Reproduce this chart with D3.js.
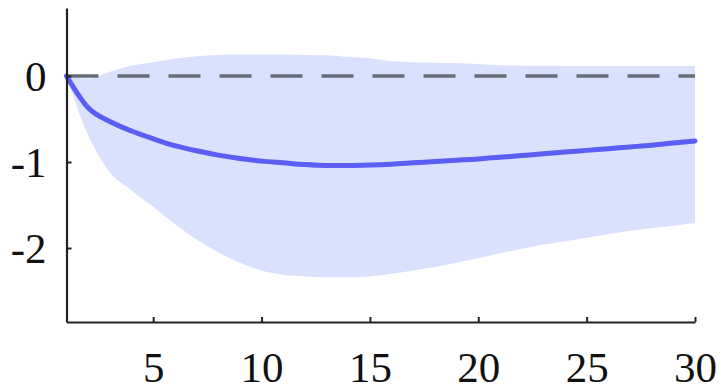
<!DOCTYPE html>
<html>
<head>
<meta charset="utf-8">
<script src="https://cdn.jsdelivr.net/npm/d3@7"></script>
<style>
  html, body { margin: 0; padding: 0; background: #fff; }
  svg { display: block; }
</style>
</head>
<body>
<svg id="chart" width="720" height="390"></svg>
<script>
// Impulse response: horizon, point estimate and confidence band
const periods = d3.range(1, 31);
const response = [0, -0.37, -0.53, -0.64, -0.73, -0.81, -0.87, -0.92, -0.96, -0.99,
  -1.01, -1.03, -1.04, -1.04, -1.035, -1.025, -1.01, -0.995, -0.98, -0.965,
  -0.945, -0.925, -0.905, -0.885, -0.865, -0.845, -0.825, -0.805, -0.78, -0.755];
const bandLower = [0, -0.69, -1.12, -1.33, -1.52, -1.72, -1.90, -2.05, -2.17, -2.26,
  -2.31, -2.33, -2.34, -2.34, -2.33, -2.30, -2.26, -2.22, -2.17, -2.12,
  -2.06, -2.01, -1.96, -1.92, -1.88, -1.84, -1.80, -1.77, -1.74, -1.71];
const bandUpper = [0, -0.03, 0.05, 0.12, 0.16, 0.20, 0.23, 0.245, 0.25, 0.25,
  0.25, 0.245, 0.24, 0.22, 0.205, 0.17, 0.16, 0.155, 0.15, 0.14,
  0.125, 0.12, 0.118, 0.117, 0.116, 0.116, 0.116, 0.116, 0.116, 0.116];
const xTicks = [5, 10, 15, 20, 25, 30];
const yTicks = [-2, -1, 0];

const svg = d3.select("#chart");
const x = d3.scaleLinear().domain([1, 30]).range([66.5, 695]);
const y = d3.scaleLinear().domain([-2.86, 0.79]).range([322, 8]);

const rows = periods.map((p, i) => ({ p, m: response[i], lo: bandLower[i], hi: bandUpper[i] }));

// confidence band
svg.append("path")
  .datum(rows)
  .attr("fill", "#d9e1fc")
  .attr("d", d3.area()
    .x(d => x(d.p))
    .y0(d => y(d.lo))
    .y1(d => y(d.hi))
    .curve(d3.curveMonotoneX));

// zero reference line
svg.append("line")
  .attr("x1", x(1)).attr("x2", x(30))
  .attr("y1", y(0)).attr("y2", y(0))
  .attr("stroke", "#666d79")
  .attr("stroke-width", 3.5)
  .attr("stroke-dasharray", "32 19");

// point estimate
svg.append("path")
  .datum(rows)
  .attr("fill", "none")
  .attr("stroke", "#5a5ef2")
  .attr("stroke-width", 5)
  .attr("stroke-linecap", "round")
  .attr("d", d3.line()
    .x(d => x(d.p))
    .y(d => y(d.m))
    .curve(d3.curveMonotoneX));

const labelFont = "'Liberation Serif', 'Times New Roman', serif";

// axes with inward ticks
const gx = svg.append("g")
  .attr("transform", `translate(0,${y.range()[0]})`)
  .call(d3.axisBottom(x).tickValues(xTicks).tickSize(-5).tickSizeOuter(0)
    .tickFormat(d3.format("d")));
const gy = svg.append("g")
  .attr("transform", `translate(${x.range()[0]},0)`)
  .call(d3.axisLeft(y).tickValues(yTicks).tickSize(-5).tickSizeOuter(0)
    .tickFormat(d => String(d).replace("\u2212", "-")));

[gx, gy].forEach(g => {
  g.select(".domain").attr("stroke", "#222").attr("stroke-width", 2.2);
  g.selectAll(".tick line").attr("stroke", "#222").attr("stroke-width", 2);
  g.selectAll(".tick text")
    .attr("fill", "#111")
    .style("font-family", labelFont)
    .style("font-size", "43px");
});

gx.selectAll(".tick text").attr("y", 60).attr("dy", 0);
gy.selectAll(".tick text").attr("x", -20).attr("dy", "0.33em");
</script>
</body>
</html>
